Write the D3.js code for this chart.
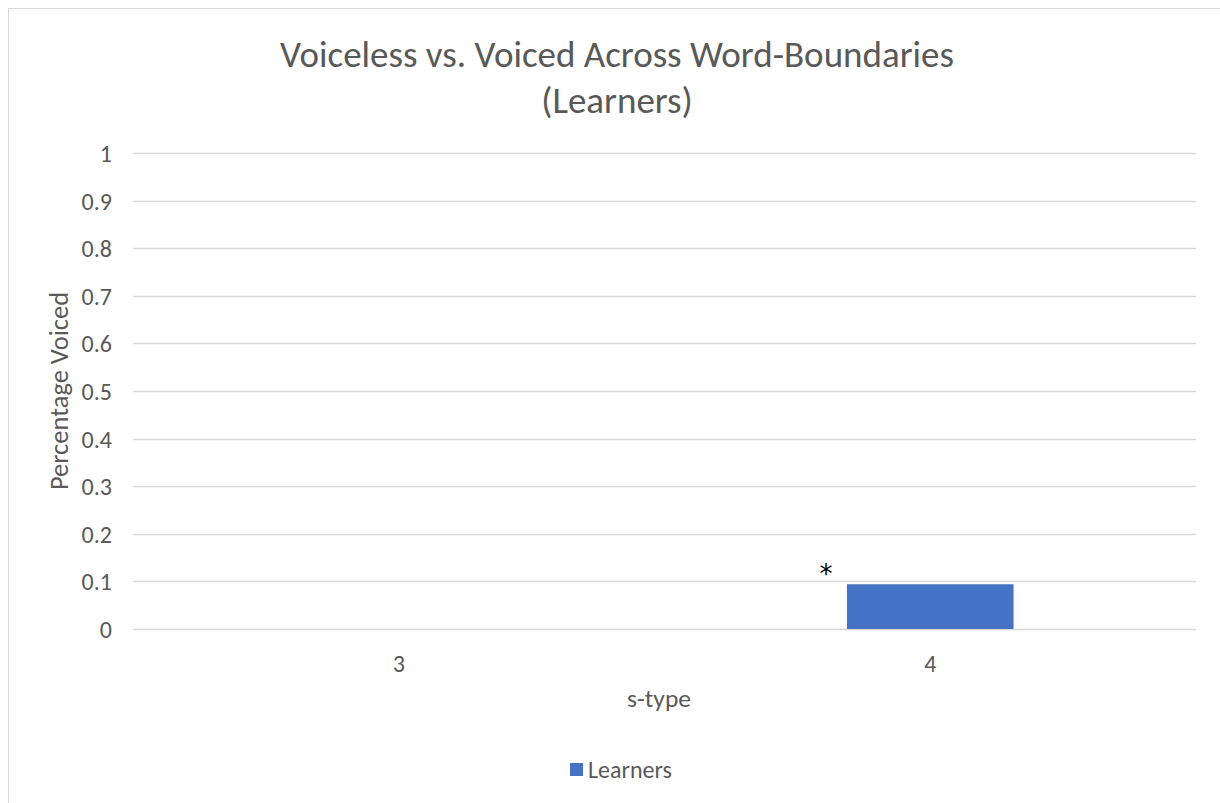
<!DOCTYPE html>
<html>
<head>
<meta charset="utf-8">
<script src="https://cdn.jsdelivr.net/npm/d3@7"></script>
<style>
  html, body { margin: 0; padding: 0; background: #fff; }
  svg { display: block; }
  text { font-family: Carlito, Lato, "Open Sans", sans-serif; }
</style>
</head>
<body>
<svg id="chart" width="1220" height="803"></svg>
<script>
// s-type categories and the share of voiced tokens for learners
const categories = ["3", "4"];
const learners = [0, 0.094];
const seriesNames = ["Learners"];
const yTicks = [0, 0.1, 0.2, 0.3, 0.4, 0.5, 0.6, 0.7, 0.8, 0.9, 1];
const marks = ["", "*"];

const svg = d3.select("#chart");
const W = 1220, H = 803;
const plot = { left: 133, right: 1196, top: 153, bottom: 629 };
const textColor = "#595959";

// outer chart frame
svg.append("rect")
  .attr("x", 8.5).attr("y", 8.5)
  .attr("width", W + 20).attr("height", H + 20)
  .attr("fill", "#fff").attr("stroke", "#d9d9d9").attr("stroke-width", 1);

const x = d3.scaleBand().domain(categories)
  .range([plot.left, plot.right]).paddingInner(0).paddingOuter(0);
const y = d3.scaleLinear().domain([0, 1]).range([plot.bottom, plot.top]);

// horizontal gridlines
svg.append("g").selectAll("line").data(yTicks).join("line")
  .attr("x1", plot.left).attr("x2", plot.right)
  .attr("y1", d => Math.round(y(d)) + 0.5).attr("y2", d => Math.round(y(d)) + 0.5)
  .attr("stroke", "#d9d9d9").attr("stroke-width", 1.3);

// y axis labels
const yAxis = d3.axisLeft(y).tickValues(yTicks).tickSize(0).tickPadding(0)
  .tickFormat(d => String(+d.toFixed(1)));
svg.append("g").attr("transform", `translate(${plot.left - 21},0)`).call(yAxis)
  .call(g => g.select(".domain").remove())
  .selectAll("text").attr("font-size", 24).attr("fill", textColor).attr("dy", "0.35em");

// x axis labels
const xAxis = d3.axisBottom(x).tickSize(0).tickPadding(0);
svg.append("g").attr("transform", `translate(0,${plot.bottom + 35})`).call(xAxis)
  .call(g => g.select(".domain").remove())
  .selectAll("text").attr("font-size", 24).attr("fill", textColor).attr("dy", "0.35em");

// bars: one series, Excel-style gap width
const gap = 2.19;
const barW = x.bandwidth() / (1 + gap);
svg.append("g").selectAll("rect").data(categories).join("rect")
  .attr("x", d => x(d) + (x.bandwidth() - barW) / 2)
  .attr("width", barW)
  .attr("y", (d, i) => y(learners[i]))
  .attr("height", (d, i) => y(0) - y(learners[i]))
  .attr("fill", "#4472c4");

// significance marks
svg.append("g").selectAll("text").data(categories).join("text")
  .attr("x", d => x(d) + x.bandwidth() / 2 - barW / 2 - 21)
  .attr("y", (d, i) => y(learners[i]) - 1)
  .attr("text-anchor", "middle")
  .style("font-family", "'DejaVu Sans', sans-serif")
  .attr("font-size", 26).attr("fill", "#000")
  .text((d, i) => marks[i]);

// title
const title = svg.append("text").attr("x", 617).attr("text-anchor", "middle")
  .attr("font-size", 37).attr("fill", textColor);
title.append("tspan").attr("x", 617).attr("y", 67).text("Voiceless vs. Voiced Across Word-Boundaries");
title.append("tspan").attr("x", 617).attr("y", 113).text("(Learners)");

// axis titles
svg.append("text")
  .attr("transform", `translate(68,${(plot.top + plot.bottom) / 2 + 0}) rotate(-90)`)
  .attr("text-anchor", "middle").attr("font-size", 26.5).attr("fill", textColor)
  .text("Percentage Voiced");
svg.append("text").attr("x", 659).attr("y", 707).attr("text-anchor", "middle")
  .attr("font-size", 25.5).attr("fill", textColor).text("s-type");

// legend
const legend = svg.append("g").attr("transform", "translate(570,770)");
legend.selectAll("rect").data(seriesNames).join("rect")
  .attr("x", 0).attr("y", -7).attr("width", 13).attr("height", 13).attr("fill", "#4472c4");
legend.selectAll("text").data(seriesNames).join("text")
  .attr("x", 18).attr("y", 0).attr("dy", "0.35em")
  .attr("font-size", 24).attr("fill", textColor).text(d => d);
</script>
</body>
</html>
